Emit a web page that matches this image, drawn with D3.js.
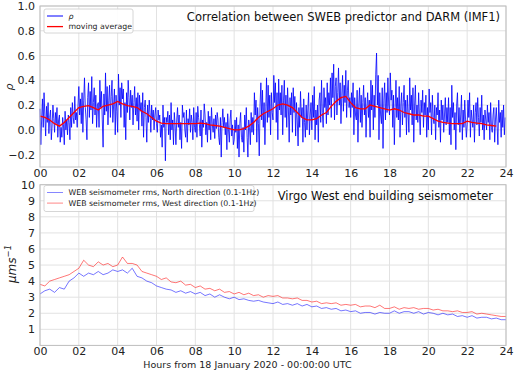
<!DOCTYPE html>
<html>
<head>
<meta charset="utf-8">
<script src="https://cdn.jsdelivr.net/npm/d3@7"></script>
<style>
  body { margin: 0; background: #fff; }
  text { font-family: "DejaVu Sans", sans-serif; }
</style>
</head>
<body>
<svg id="chart" width="514" height="371"></svg>
<script>
// DATA
// hour ticks
var hourTicks = ["00","02","04","06","08","10","12","14","16","18","20","22","24"];

// rho, one value every 2.5 minutes (24 per hour, one row per hour)
var rhoValues = [
  0.17,-0.12,0.08,0.25,0.02,0.30,0.12,-0.05,0.19,0.06,0.22,-0.03,0.10,0.16,-0.08,0.04,0.20,0.09,-0.02,0.14,0.05,0.18,-0.06,0.08,
  0.12,-0.10,0.02,-0.06,0.10,0.04,-0.12,0.15,0.00,0.08,-0.04,0.12,0.06,-0.08,0.18,0.02,0.22,0.10,0.05,0.27,0.08,0.14,0.02,0.20,
  0.35,0.12,0.25,0.05,0.30,-0.02,0.24,0.42,0.18,0.08,-0.08,0.26,0.38,0.10,0.31,0.16,0.43,0.05,0.22,0.34,0.12,0.28,0.02,0.20,
  0.22,0.02,0.40,0.18,0.31,0.08,-0.14,0.29,0.12,0.46,0.15,0.35,0.04,0.24,0.36,0.10,0.27,0.40,0.06,0.20,0.33,-0.04,0.28,0.15,
  -0.02,0.45,0.20,0.34,0.10,0.38,0.25,0.33,0.02,0.22,-0.08,0.30,0.14,0.40,0.26,0.08,0.32,0.18,0.28,0.04,0.22,0.35,0.12,0.26,
  0.07,0.30,0.00,0.28,0.15,0.22,0.03,0.30,-0.06,0.18,0.24,0.10,-0.10,0.20,0.06,0.24,0.14,-0.02,0.20,0.08,0.16,0.00,0.12,0.18,
  0.05,-0.02,0.16,0.08,0.12,-0.06,0.04,-0.14,0.20,0.02,0.10,-0.25,0.10,0.06,0.15,-0.04,0.12,-0.08,0.22,0.00,0.08,-0.12,0.14,0.04,
  -0.12,0.08,0.18,0.02,0.12,-0.08,0.06,-0.15,0.20,0.10,0.14,0.00,-0.06,0.16,-0.10,0.09,0.04,0.17,-0.02,0.12,0.06,-0.08,0.18,0.02,
  -0.02,0.14,-0.06,0.19,0.10,0.04,-0.05,0.16,-0.14,0.08,0.02,0.21,0.12,-0.04,0.06,-0.10,0.15,0.00,0.11,-0.08,0.18,0.04,-0.02,0.09,
  -0.07,0.12,0.01,0.14,0.08,-0.06,-0.12,0.10,-0.22,0.06,0.17,0.02,0.10,-0.04,0.06,-0.16,0.13,0.00,-0.10,0.08,0.16,-0.05,0.04,-0.12,
  -0.08,0.08,-0.02,0.10,-0.15,0.04,-0.22,0.05,0.14,-0.06,-0.10,0.02,-0.18,0.12,0.00,0.18,-0.06,-0.22,0.08,0.02,-0.12,0.14,-0.02,0.10,
  -0.04,0.30,0.12,0.24,-0.10,0.18,0.05,-0.21,0.20,0.38,0.08,0.32,0.02,0.22,-0.12,0.15,0.42,0.06,0.36,0.10,0.28,-0.04,0.30,0.14,
  0.08,0.44,0.22,0.38,0.06,0.30,-0.08,0.41,0.16,0.30,0.12,0.36,-0.04,0.24,0.40,0.10,0.28,0.02,0.34,0.18,-0.10,0.26,0.12,0.30,
  -0.02,0.34,0.14,0.27,-0.05,0.22,0.08,-0.13,0.18,0.02,0.31,0.10,0.18,-0.10,0.25,0.06,-0.06,0.20,0.00,0.16,0.30,-0.04,0.12,0.22,
  0.00,0.28,0.10,0.35,-0.08,0.16,0.04,0.20,-0.10,0.24,0.30,0.06,0.40,0.14,0.02,0.34,0.18,0.26,0.05,0.38,0.12,0.30,0.20,0.42,
  0.10,0.46,0.26,0.53,0.08,0.35,0.42,0.12,0.30,0.50,0.20,0.38,0.05,0.28,0.44,0.15,0.36,0.22,0.48,0.10,0.32,0.40,0.18,0.26,
  0.10,0.30,0.18,0.38,-0.04,0.26,0.12,0.08,0.32,-0.10,0.20,0.34,0.06,0.28,0.02,0.22,0.36,0.12,0.26,-0.06,0.18,0.30,0.10,0.24,
  -0.06,0.40,0.16,0.36,0.00,0.28,0.10,0.45,0.62,0.20,0.44,-0.08,0.30,0.12,0.05,0.34,-0.15,0.24,0.38,0.08,0.30,0.14,0.42,0.20,
  0.12,0.46,0.24,0.32,0.02,0.28,-0.12,0.18,0.40,0.10,0.26,0.08,0.35,-0.06,0.20,0.30,0.04,0.22,0.36,0.10,0.24,-0.04,0.28,0.14,
  -0.02,0.42,0.16,0.28,0.04,0.34,-0.10,0.20,0.36,0.08,0.20,0.06,0.30,0.12,-0.04,0.24,0.14,0.32,0.02,0.22,0.12,0.28,-0.06,0.18,
  0.00,0.33,0.14,0.22,-0.04,0.28,0.10,0.05,0.20,-0.08,0.18,0.12,0.30,0.02,0.16,-0.10,0.24,0.08,0.20,-0.02,0.12,0.26,0.04,0.18,
  0.06,0.26,-0.04,0.18,-0.12,0.36,0.10,0.22,0.00,0.14,-0.16,0.20,0.30,0.04,0.18,-0.02,0.12,0.28,-0.08,0.16,0.02,0.24,0.08,-0.06,
  0.04,0.24,0.10,0.30,-0.06,0.16,0.08,0.02,0.20,-0.10,0.14,0.22,0.04,0.26,0.10,-0.05,0.18,0.06,0.28,0.00,0.12,-0.08,0.16,0.08,
  0.00,0.20,0.06,0.14,-0.08,0.22,0.02,-0.02,0.12,0.18,-0.10,0.08,0.18,0.03,-0.12,0.24,0.06,0.14,-0.06,0.16,0.02,0.20,-0.04,0.10
];

// moving average, one value every 15 minutes, from 00:00 to 23:30
var movingAvg = [
  0.11,0.10,0.08,0.05,0.03,0.06,0.10,0.14,0.18,0.19,0.195,0.18,
  0.16,0.19,0.20,0.21,0.23,0.21,0.195,0.19,0.18,0.15,0.13,0.10,
  0.07,0.055,0.05,0.05,0.05,0.05,0.05,0.05,0.05,0.055,0.05,0.04,
  0.035,0.03,0.02,0.01,0.0,0.0,0.01,0.03,0.06,0.10,0.13,0.15,
  0.17,0.20,0.21,0.20,0.18,0.14,0.10,0.08,0.08,0.09,0.12,0.14,
  0.19,0.23,0.26,0.27,0.22,0.18,0.17,0.17,0.20,0.19,0.18,0.17,
  0.16,0.17,0.16,0.14,0.13,0.12,0.12,0.11,0.11,0.09,0.07,0.06,
  0.055,0.05,0.05,0.05,0.07,0.06,0.055,0.05,0.04,0.035,0.03
];

// seismometer rms, one value every 15 minutes (one row = 3 hours), 00:00 to 24:00
var northRms = [
  3.2,3.4,3.5,3.3, 3.6,3.5,4.0,4.2, 4.5,4.3,4.5,4.4,
  4.6,4.4,4.5,4.7, 4.6,4.7,4.5,4.8, 4.3,4.2,4.0,3.9,
  3.7,3.6,3.5,3.45, 3.3,3.4,3.25,3.35, 3.2,3.3,3.1,3.2,
  3.0,3.15,3.0,2.9, 3.0,2.85,2.9,2.8, 2.75,2.8,2.7,2.65,
  2.6,2.7,2.55,2.6, 2.5,2.6,2.45,2.55, 2.4,2.45,2.3,2.35,
  2.25,2.3,2.15,2.2, 2.1,2.15,2.0,2.05, 2.05,1.95,2.05,2.0,
  2.0,2.15,2.0,2.1, 2.1,2.0,2.1,1.95, 2.05,2.0,1.9,2.0,
  1.9,1.95,1.8,1.85, 1.75,1.85,1.7,1.75, 1.75,1.65,1.7,1.6,
  1.6
];
var westRms = [
  3.8,3.7,4.0,4.1, 4.2,4.3,4.4,4.6, 4.8,5.3,5.0,4.9,
  5.2,5.0,5.1,4.9, 5.0,5.5,5.1,5.1, 5.0,4.6,4.5,4.4,
  4.3,4.1,4.2,3.95, 3.9,4.0,3.75,3.8, 3.6,3.7,3.5,3.55,
  3.4,3.5,3.3,3.35, 3.2,3.3,3.15,3.25, 3.1,3.15,3.0,3.1,
  3.05,3.1,2.95,2.95, 2.9,2.95,2.8,2.8, 2.7,2.75,2.6,2.65,
  2.6,2.65,2.5,2.55, 2.5,2.55,2.4,2.45, 2.45,2.35,2.5,2.3,
  2.3,2.4,2.25,2.35, 2.3,2.35,2.25,2.3, 2.3,2.2,2.25,2.15,
  2.15,2.1,2.15,2.05, 2.05,2.1,1.95,2.0, 1.95,1.9,1.85,1.8,
  1.8
];

// LAYOUT
var width = 514;
var height = 371;
var xLeft = 40;
var xRight = 506;
var topPanel = {y0: 6, y1: 167, min: -0.3, max: 1.0};
var botPanel = {y0: 184.7, y1: 345.4, min: 0, max: 10};

// STYLES
var gridColor = "#e2e2e2";
var frameColor = "#bdbdbd";
var tickFontSize = 11;
var blue = "#0000ff";
var red = "#ff0000";

var svg = d3.select("#chart");

var x = d3.scaleLinear().domain([0, 24]).range([xLeft, xRight]);

function drawPanel(panel, tickValues, tickFormat) {
    var y = d3.scaleLinear().domain([panel.min, panel.max]).range([panel.y1, panel.y0]);
    var g = svg.append("g");

    // grid
    g.selectAll(".vgrid").data(hourTicks).enter().append("line")
        .attr("x1", d => x(+d)).attr("x2", d => x(+d))
        .attr("y1", panel.y0).attr("y2", panel.y1)
        .attr("stroke", gridColor).attr("stroke-width", 1);
    g.selectAll(".hgrid").data(tickValues).enter().append("line")
        .attr("x1", xLeft).attr("x2", xRight)
        .attr("y1", d => y(d)).attr("y2", d => y(d))
        .attr("stroke", gridColor).attr("stroke-width", 1);

    // y axis labels
    var yAxis = d3.axisLeft(y).tickValues(tickValues).tickFormat(tickFormat).tickSize(0).tickPadding(5);
    var ya = g.append("g").attr("transform", "translate(" + xLeft + ",0)").call(yAxis);
    ya.select(".domain").remove();
    ya.attr("font-size", tickFontSize).attr("font-family", "DejaVu Sans");
    ya.selectAll("text").attr("fill", "#222");

    // x axis labels
    var xAxis = d3.axisBottom(x).tickValues(hourTicks.map(Number))
        .tickFormat(d => d3.format("02d")(d)).tickSize(0).tickPadding(2);
    var xa = g.append("g").attr("transform", "translate(0," + panel.y1 + ")").call(xAxis);
    xa.select(".domain").remove();
    xa.attr("font-size", tickFontSize).attr("font-family", "DejaVu Sans");
    xa.selectAll("text").attr("fill", "#222");

    return {g: g, y: y};
}

function drawFrame(panel) {
    svg.append("rect")
        .attr("x", xLeft).attr("y", panel.y0)
        .attr("width", xRight - xLeft).attr("height", panel.y1 - panel.y0)
        .attr("fill", "none").attr("stroke", frameColor).attr("stroke-width", 1);
}

// TOP PANEL: correlation
var topP = drawPanel(topPanel, [-0.2, 0, 0.2, 0.4, 0.6, 0.8, 1.0],
    d => d3.format(".1f")(d).replace("-", "\u2212"));

var rhoLine = d3.line().x((d, i) => x(i / 24)).y(d => topP.y(d));
topP.g.append("path").datum(rhoValues)
    .attr("d", rhoLine)
    .attr("fill", "none").attr("stroke", blue).attr("stroke-width", 1)
    .attr("stroke-opacity", 0.8);

var avgLine = d3.line().x((d, i) => x(i / 4)).y(d => topP.y(d));
topP.g.append("path").datum(movingAvg)
    .attr("d", avgLine)
    .attr("fill", "none").attr("stroke", red).attr("stroke-width", 1.3);

drawFrame(topPanel);

// BOTTOM PANEL: seismometer
var botP = drawPanel(botPanel, [1, 2, 3, 4, 5, 6, 7, 8, 9, 10], d => d);

var rmsLine = d3.line().x((d, i) => x(i / 4)).y(d => botP.y(d));
botP.g.append("path").datum(northRms)
    .attr("d", rmsLine)
    .attr("fill", "none").attr("stroke", blue).attr("stroke-width", 0.9)
    .attr("stroke-opacity", 0.6);
botP.g.append("path").datum(westRms)
    .attr("d", rmsLine)
    .attr("fill", "none").attr("stroke", red).attr("stroke-width", 0.9)
    .attr("stroke-opacity", 0.6);

drawFrame(botPanel);

// TITLES
svg.append("text").attr("x", 500).attr("y", 21)
    .attr("text-anchor", "end").attr("font-size", 11.5).attr("fill", "#111")
    .text("Correlation between SWEB predictor and DARM (IMF1)");
svg.append("text").attr("x", 493).attr("y", 200)
    .attr("text-anchor", "end").attr("font-size", 11.5).attr("fill", "#111")
    .text("Virgo West end building seismometer");

// Y LABELS
svg.append("text").attr("transform", "translate(13,87) rotate(-90)")
    .attr("text-anchor", "middle").attr("font-size", 11).attr("font-style", "italic")
    .attr("fill", "#222").text("\u03c1");
var yl = svg.append("text").attr("transform", "translate(16,264) rotate(-90)")
    .attr("text-anchor", "middle").attr("font-size", 12).attr("font-style", "italic")
    .attr("fill", "#222");
yl.append("tspan").text("\u03bcms");
yl.append("tspan").attr("dy", -5).attr("font-size", 8.5).text("\u22121");

// X LABEL
svg.append("text").attr("x", 247.5).attr("y", 368)
    .attr("text-anchor", "middle").attr("font-size", 9.5).attr("fill", "#222")
    .text("Hours from 18 January 2020 - 00:00:00 UTC");

// LEGENDS
function drawLegend(x0, y0, w, h, items) {
    var lg = svg.append("g").attr("transform", "translate(" + x0 + "," + y0 + ")");
    lg.append("rect").attr("width", w).attr("height", h)
        .attr("rx", 2).attr("fill", "white").attr("fill-opacity", 0.9)
        .attr("stroke", "#cccccc").attr("stroke-width", 0.8);
    var row = lg.selectAll(".item").data(items).enter().append("g")
        .attr("transform", (d, i) => "translate(0," + (7 + i * 10.6) + ")");
    row.append("line").attr("x1", 3).attr("x2", 19).attr("y1", 0).attr("y2", 0)
        .attr("stroke", d => d.color).attr("stroke-width", d => d.width)
        .attr("stroke-opacity", d => d.opacity);
    row.append("text").attr("x", 24.5).attr("y", 2.8)
        .attr("font-size", 7.8).attr("fill", "#222")
        .attr("font-style", d => d.italic ? "italic" : "normal")
        .text(d => d.label);
}

drawLegend(44, 9, 89, 24, [
    {label: "\u03c1", color: blue, width: 1, opacity: 1, italic: true},
    {label: "moving average", color: red, width: 1.3, opacity: 1}
]);
drawLegend(44, 185.5, 210, 26, [
    {label: "WEB seismometer rms, North direction (0.1-1Hz)", color: blue, width: 0.8, opacity: 0.6},
    {label: "WEB seismometer rms, West direction (0.1-1Hz)", color: red, width: 0.8, opacity: 0.6}
]);
</script>
</body>
</html>
